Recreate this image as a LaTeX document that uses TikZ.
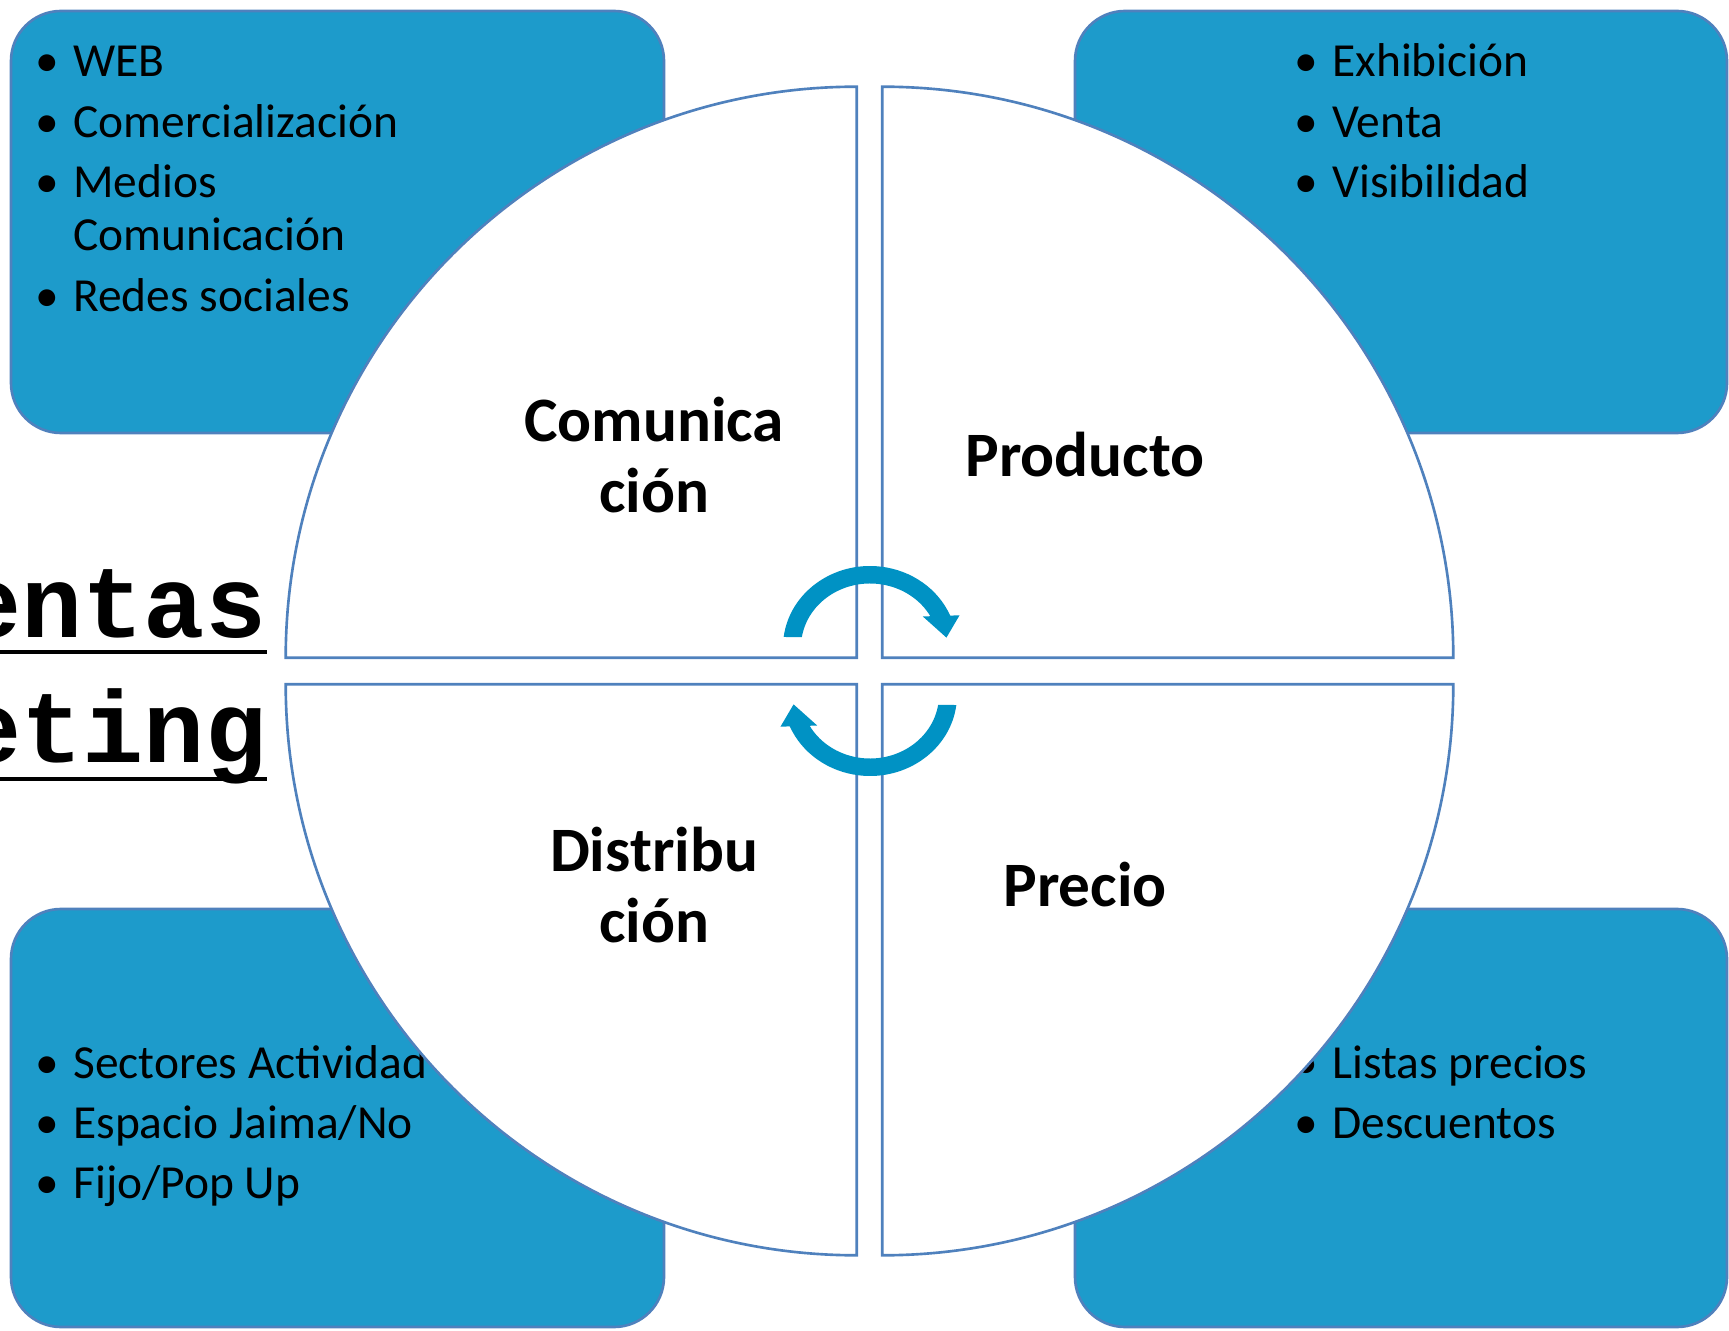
\documentclass[tikz,border=0pt]{standalone}
\usepackage{fontspec}
\setmainfont{Carlito}
\newfontfamily\courierfont{Liberation Mono}
\usepackage{tikz}

\definecolor{boxblue}{RGB}{29,155,203}
\definecolor{edgeblue}{RGB}{79,129,189}
\definecolor{arrowblue}{RGB}{0,146,196}

\tikzset{
  infobox/.style={fill=boxblue, draw=edgeblue, line width=0.75pt, rounded corners=0.5cm},
  quarter/.style={fill=white, draw=edgeblue, line width=0.75pt},
  lista/.style={font=\fontsize{13.5}{15}\selectfont, anchor=base west, inner sep=0pt},
  titulo/.style={font=\bfseries\fontsize{18}{20}\selectfont, align=center, inner sep=0pt},
  rotulo/.style={font=\courierfont\bfseries\fontsize{29}{35}\selectfont, anchor=base east, inner sep=0pt},
  subrayado/.style={line width=1.4pt},
  giro/.style={fill=arrowblue},
}

\begin{document}
\begin{tikzpicture}
\useasboundingbox (0,0) rectangle (17.29,13.30);
%BOXES
\draw[infobox] (0.11,8.97) rectangle (6.64,13.19);
\draw[infobox] (10.75,8.97) rectangle (17.27,13.19);
\draw[infobox] (0.11,0.03) rectangle (6.64,4.21);
\draw[infobox] (10.75,0.03) rectangle (17.27,4.21);
% lists
\node[lista] (listacom) at (0.35,12.53) {\begin{tabular}[t]{@{}l@{\hspace{4pt}}l@{}}
• & WEB\\[2.2pt]
• & Comercialización\\[2.2pt]
• & Medios\\
  & Comunicación\\[2.2pt]
• & Redes sociales
\end{tabular}};
\node[lista] (listaprod) at (12.94,12.53) {\begin{tabular}[t]{@{}l@{\hspace{4pt}}l@{}}
• & Exhibición\\[2.2pt]
• & Venta\\[2.2pt]
• & Visibilidad
\end{tabular}};
\node[lista] (listadist) at (0.35,2.52) {\begin{tabular}[t]{@{}l@{\hspace{4pt}}l@{}}
• & Sectores Actividad\\[2.2pt]
• & Espacio Jaima/No\\[2.2pt]
• & Fijo/Pop Up
\end{tabular}};
\node[lista] (listaprecio) at (12.94,2.52) {\begin{tabular}[t]{@{}l@{\hspace{4pt}}l@{}}
• & Listas precios\\[2.2pt]
• & Descuentos
\end{tabular}};
% side title
\node[rotulo] (entas) at (2.67,6.92) {entas};
\node[rotulo] (eting) at (2.67,5.68) {eting};
\draw[subrayado] ([yshift=-0.14cm]entas.base west) -- ([yshift=-0.14cm]entas.base east);
\draw[subrayado] ([yshift=-0.17cm]eting.base west) -- ([yshift=-0.17cm]eting.base east);
%CIRCLE
\coordinate (ctl) at (8.567,6.723);
\coordinate (ctr) at (8.823,6.723);
\coordinate (cbl) at (8.567,6.457);
\coordinate (cbr) at (8.823,6.457);
\filldraw[quarter] (ctl) -- ++(180:5.71) arc[start angle=180, end angle=90, radius=5.71] -- cycle;
\filldraw[quarter] (ctr) -- ++(90:5.71) arc[start angle=90, end angle=0, radius=5.71] -- cycle;
\filldraw[quarter] (cbl) -- ++(270:5.71) arc[start angle=270, end angle=180, radius=5.71] -- cycle;
\filldraw[quarter] (cbr) -- ++(0:5.71) arc[start angle=0, end angle=-90, radius=5.71] -- cycle;
\node[titulo] (comunicacion) at (6.54,8.75) {Comunica\\ción};
\node[titulo] (producto) at (10.85,8.75) {Producto};
\node[titulo] (distribucion) at (6.54,4.45) {Distribu\\ción};
\node[titulo] (precio) at (10.85,4.45) {Precio};
% cycle arrows
\fill[giro, shift={(8.70,6.83)}] (172.9:0.87 and 0.81) arc[start angle=172.9, end angle=22.8, x radius=0.87, y radius=0.81]
  -- (19.5:0.95) -- (7:0.77) -- (30:0.61) -- (29:0.69 and 0.635) arc[start angle=29, end angle=171, x radius=0.69, y radius=0.635] -- cycle;
\fill[giro, shift={(8.70,6.35)}, rotate=180] (172.9:0.87 and 0.81) arc[start angle=172.9, end angle=22.8, x radius=0.87, y radius=0.81]
  -- (19.5:0.95) -- (7:0.77) -- (30:0.61) -- (29:0.69 and 0.635) arc[start angle=29, end angle=171, x radius=0.69, y radius=0.635] -- cycle;
\end{tikzpicture}
\end{document}
